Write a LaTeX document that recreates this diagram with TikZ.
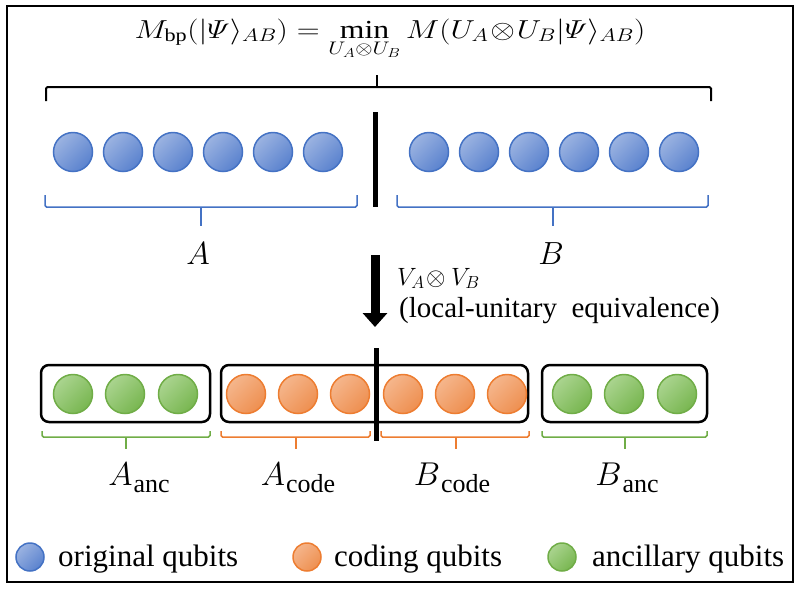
\documentclass[tikz,border=0pt]{standalone}
\usepackage{fix-cm}
\usepackage{amsmath}
\usepackage{fontspec}
\setmainfont{Liberation Serif}
\usetikzlibrary{arrows.meta}
\definecolor{blueS}{HTML}{4472C4}
\definecolor{blueL}{HTML}{9BB3E1}
\definecolor{blueD}{HTML}{5A82CE}
\definecolor{oranS}{HTML}{ED7D31}
\definecolor{oranL}{HTML}{F5B68C}
\definecolor{oranD}{HTML}{EE8F50}
\definecolor{greeS}{HTML}{70AD47}
\definecolor{greeL}{HTML}{AAD48F}
\definecolor{greeD}{HTML}{78B650}
\newcommand{\lbsub}[2]{$#1$\kern1pt\raisebox{-7pt}{\fontsize{26}{30}\selectfont #2}}
\tikzset{
  qb/.style={circle, minimum size=39pt, inner sep=0pt, line width=1.5pt},
  qleg/.style={circle, minimum size=28pt, inner sep=0pt, line width=1.5pt},
  blueq/.style={draw=blueS, top color=blueL, bottom color=blueD, shading angle=45},
  oranq/.style={draw=oranS, top color=oranL, bottom color=oranD, shading angle=45},
  greeq/.style={draw=greeS, top color=greeL, bottom color=greeD, shading angle=45},
  brc/.style={line width=1.5pt, rounded corners=1.5pt},
  grp/.style={draw, line width=2.5pt, rounded corners=8pt, inner sep=0pt},
  bar/.style={line width=4.5pt},
  mlab/.style={font=\fontsize{32}{36}\selectfont, anchor=base},
  slab/.style={font=\fontsize{33}{36}\selectfont, anchor=base},
  legtxt/.style={font=\fontsize{31}{36}\selectfont, anchor=base west, inner sep=0pt},
}
\begin{document}
\begin{tikzpicture}[x=1pt,y=-1pt]
\useasboundingbox (0,0) rectangle (802,590);
\draw[line width=2pt] (7,6) rectangle (793,582);

% title
\node[anchor=base, font=\fontsize{26}{30}\selectfont, inner sep=0pt] (title) at (390,38)
  {\scalebox{1.22}[1]{$\displaystyle M_{\mathrm{bp}}(|\varPsi\rangle_{AB}) = \min_{U_A\otimes U_B} M(U_A\!\otimes\! U_B|\varPsi\rangle_{AB})$}};

% top brace
\coordinate (tbL) at (46,101);
\coordinate (tbR) at (711,101);
\coordinate (tbC) at (377,87);
\coordinate (tbT) at (377,75);
\draw[brc, line width=2pt] (tbL) -- (46,87) -- (711,87) -- (tbR);
\draw[line width=2pt] (tbC) -- (tbT);

% top divider
\coordinate (b1t) at (375.5,112);
\coordinate (b1b) at (375.5,207);
\draw[bar] (b1t) -- (b1b);

% original qubits
\foreach \i/\x in {1/73,2/123,3/173,4/223,5/273,6/323}
  \node[qb, blueq] (a\i) at (\x,152) {};
\foreach \i/\x in {1/429,2/479,3/529,4/579,5/629,6/679}
  \node[qb, blueq] (b\i) at (\x,152) {};

% blue braces
\draw[brc, blueS] (45,195) -- (45,207) -- (357,207) -- (357,195);
\draw[brc, blueS] (201,207) -- (201,226);
\draw[brc, blueS] (397,195) -- (397,207) -- (708,207) -- (708,195);
\draw[brc, blueS] (553,207) -- (553,226);

\node[mlab] (labA) at (198,264) {$A$};
\node[mlab] (labB) at (551,264) {$B$};

% arrow
\coordinate (arS) at (375,255);
\coordinate (arE) at (375,327);
\draw[line width=9pt, -{Triangle[width=24pt,length=14pt]}] (arS) -- (arE);
\node[anchor=base west, inner sep=0pt, font=\fontsize{25}{28}\selectfont] (vv) at (397,285) {$V_A\!\otimes V_B$};
\node[anchor=base west, inner sep=0pt, font=\fontsize{29}{34}\selectfont] (lue) at (399,317) {(local-unitary~ equivalence)};

% groups
\node[grp, minimum width=169pt, minimum height=57pt] (g1) at (125.5,393.5) {};
\node[grp, minimum width=307pt, minimum height=57pt] (g2) at (374.5,393.5) {};
\node[grp, minimum width=165pt, minimum height=57pt] (g3) at (624.5,393.5) {};

\foreach \i/\x in {1/73,2/125,3/178}
  \node[qb, greeq] (ga\i) at (\x,394) {};
\foreach \i/\x in {1/246,2/298,3/350,4/403,5/455,6/507}
  \node[qb, oranq] (oc\i) at (\x,394) {};
\foreach \i/\x in {1/572,2/624,3/677}
  \node[qb, greeq] (gb\i) at (\x,394) {};

% bottom divider
\coordinate (b2t) at (376.5,348);
\coordinate (b2b) at (376.5,441);
\draw[bar] (b2t) -- (b2b);

% bottom braces
\draw[brc, greeS] (42,431) -- (42,437) -- (210,437) -- (210,431);
\draw[brc, greeS] (126,437) -- (126,449);
\draw[brc, oranS] (221,431) -- (221,437) -- (370,437) -- (370,431);
\draw[brc, oranS] (296,437) -- (296,449);
\draw[brc, oranS] (381,431) -- (381,437) -- (529,437) -- (529,431);
\draw[brc, oranS] (456,437) -- (456,449);
\draw[brc, greeS] (542,431) -- (542,437) -- (707,437) -- (707,431);
\draw[brc, greeS] (625,437) -- (625,449);

\node[slab] (lAa) at (139,485) {\lbsub{A}{anc}};
\node[slab] (lAc) at (298,485) {\lbsub{A}{code}};
\node[slab] (lBc) at (452,485) {\lbsub{B}{code}};
\node[slab] (lBa) at (627,485) {\lbsub{B}{anc}};

% legend
\node[qleg, blueq] (l1) at (30,557) {};
\node[legtxt] (t1) at (58,566) {original qubits};
\node[qleg, oranq] (l2) at (307,557) {};
\node[legtxt] (t2) at (334,566) {coding qubits};
\node[qleg, greeq] (l3) at (562,557) {};
\node[legtxt] (t3) at (592,566) {ancillary qubits};
\end{tikzpicture}
\end{document}
